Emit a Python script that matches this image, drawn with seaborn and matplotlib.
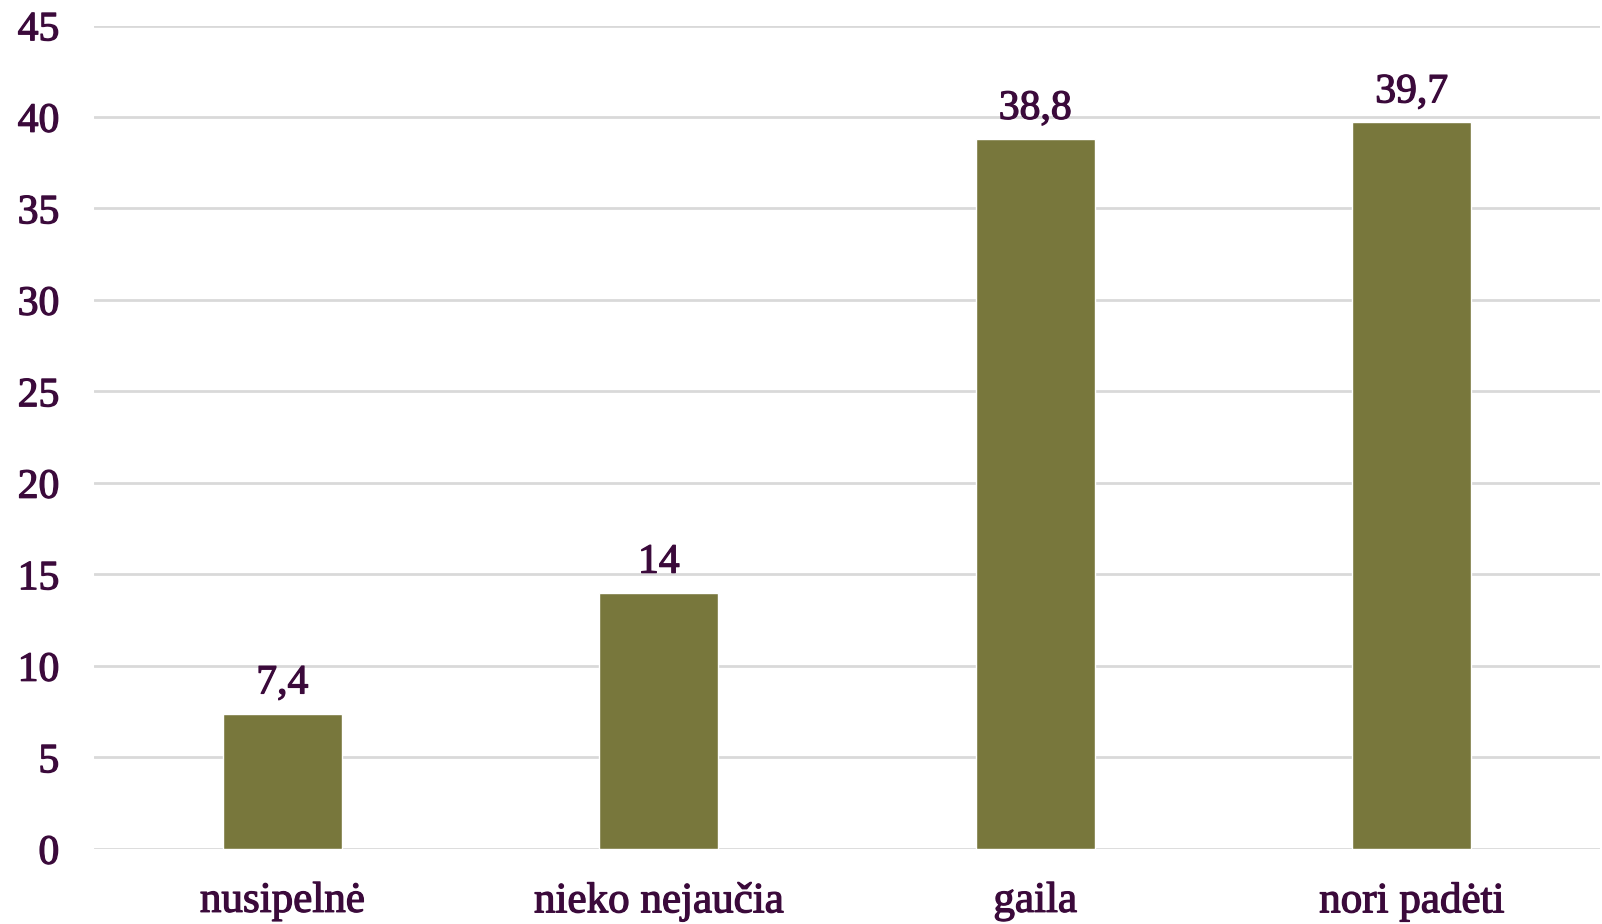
import matplotlib
matplotlib.use("Agg")
import matplotlib.pyplot as plt
import matplotlib.patheffects as pe
import seaborn as sns
import pandas as pd

# data
categories = ["nusipelnė", "nieko nejaučia", "gaila", "nori padėti"]
values = [7.4, 14, 38.8, 39.7]
value_labels = ["7,4", "14", "38,8", "39,7"]
y_ticks = [0, 5, 10, 15, 20, 25, 30, 35, 40, 45]

text_color = "#3b0a3b"
bar_color = "#78773c"
grid_color = "#d9d9d9"

sns.set_theme(style="white")
plt.rcParams["font.family"] = ["Liberation Serif", "DejaVu Serif"]

df = pd.DataFrame({"cat": categories, "val": values})

fig = plt.figure(figsize=(16.02, 9.24), dpi=100)
ax = fig.add_axes([0.0587, 0.0812, 0.94, 0.8912])

sns.barplot(data=df, x="cat", y="val", color=bar_color, width=0.315,
            saturation=1, ax=ax, zorder=3)

ax.set_ylim(0, 45)
ax.set_yticks(y_ticks)
ax.set_xlim(-0.5, len(categories) - 0.5)
ax.yaxis.grid(True, color=grid_color, linewidth=2, zorder=0)
ax.set_axisbelow(True)
for side in ["top", "right", "left", "bottom"]:
    ax.spines[side].set_visible(False)

# slightly heavier text, like the reference rendering
heavy = [pe.withStroke(linewidth=0.9, foreground=text_color)]

ax.set_xlabel("")
ax.set_ylabel("")
ax.tick_params(axis="y", length=0, pad=25, labelsize=30, labelcolor=text_color)
ax.tick_params(axis="x", length=0, pad=24, labelsize=31, labelcolor=text_color)
for t in ax.get_xticklabels() + ax.get_yticklabels():
    t.set_path_effects(heavy)

for i, (v, lab) in enumerate(zip(values, value_labels)):
    ax.annotate(lab, (i, v), xytext=(0, 8), textcoords="offset points",
                ha="center", va="bottom", fontsize=30, color=text_color,
                path_effects=heavy)

fig.savefig("out.png", dpi=100)
